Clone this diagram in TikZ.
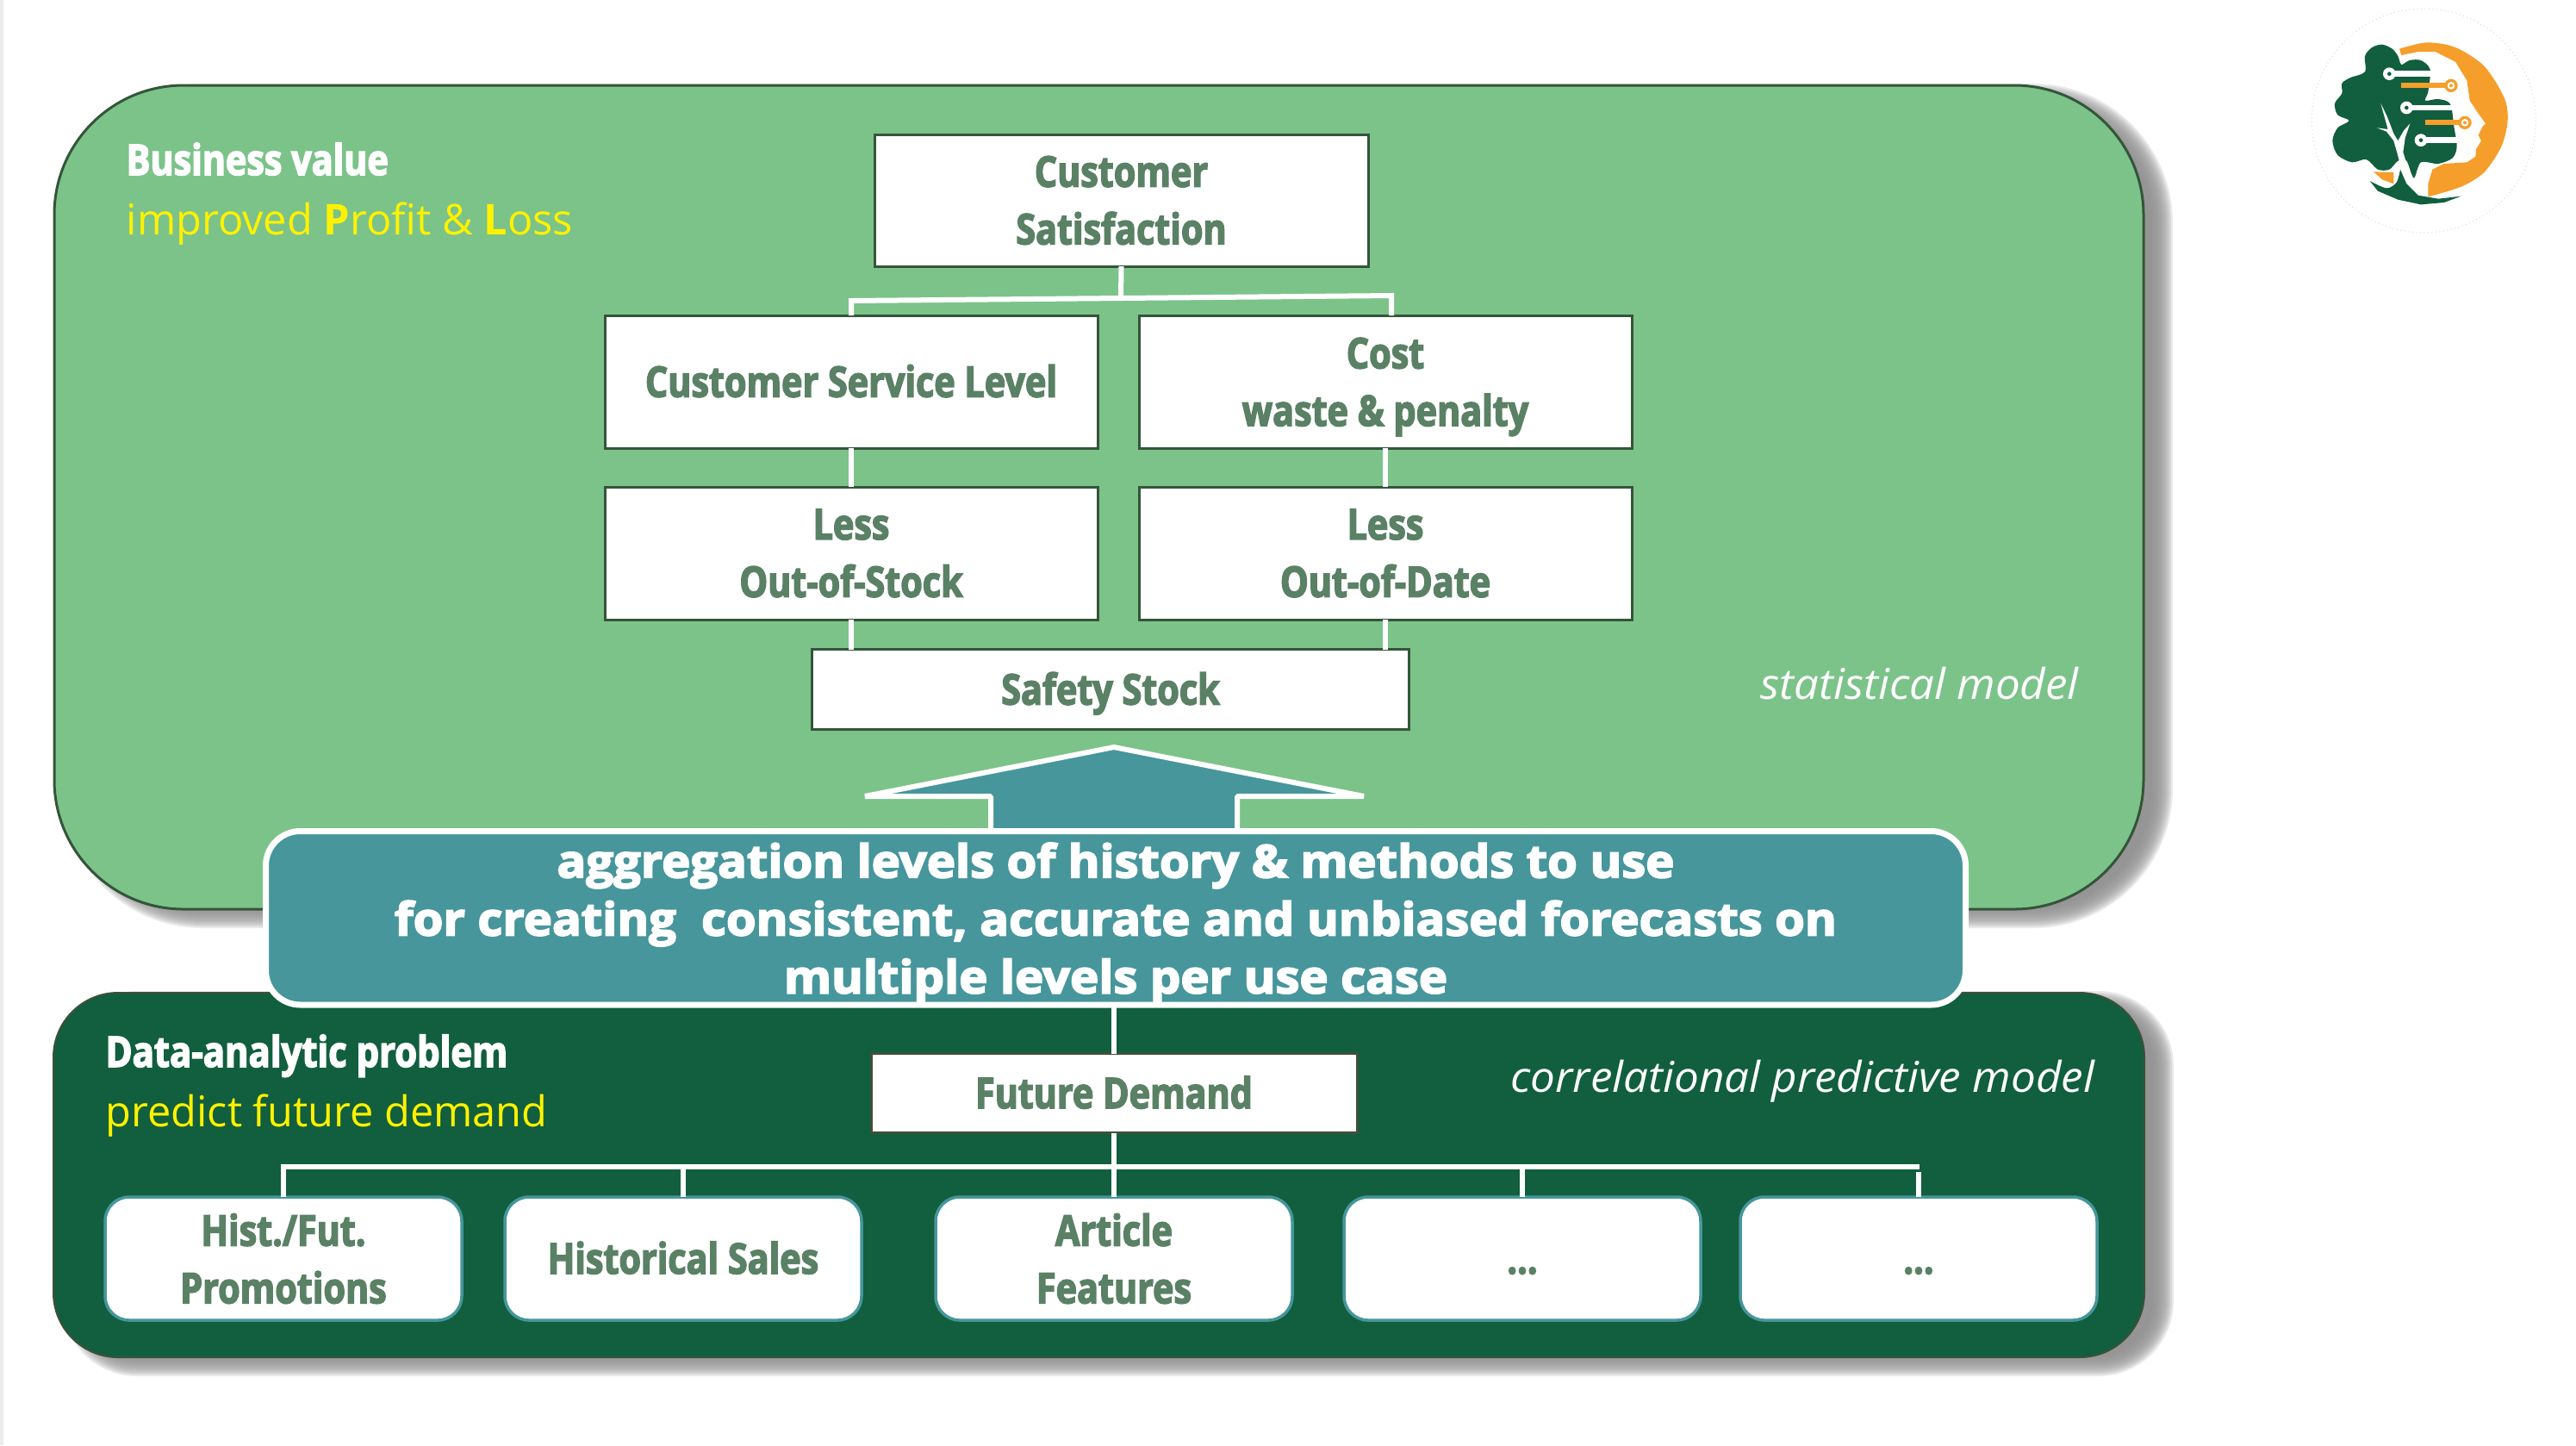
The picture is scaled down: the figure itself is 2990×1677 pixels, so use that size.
\documentclass[tikz,border=0pt]{standalone}
\usepackage{fontspec}
\usepackage{tikz}
\usetikzlibrary{positioning}
\setmainfont[FakeStretch=.99]{Open Sans}
\newfontfamily\heavyfont[FakeStretch=.84,FakeBold=3]{Open Sans}
\newfontfamily\headfont[FakeStretch=.85,FakeBold=3]{Open Sans}
\newfontfamily\widefont[FakeStretch=1.065,FakeBold=3.5]{Open Sans}
\newfontfamily\modelfont[FakeStretch=1.04]{Open Sans}
\definecolor{panel-light}{HTML}{7CC38A}
\definecolor{panel-dark}{HTML}{115F3E}
\definecolor{panel-teal}{HTML}{46969C}
\definecolor{label-green}{HTML}{5A8165}
\definecolor{edge-green}{HTML}{34553A}
\definecolor{edge-brown}{HTML}{3F4F3A}
\definecolor{shadow-gray}{HTML}{8E8E8E}
\definecolor{logo-orange}{HTML}{F59E2B}

\tikzset{
	valuebox/.style={draw=edge-green, fill=white, line width=.3mm, minimum width=57.2mm, minimum height=15.4mm,
		inner sep=0pt, outer sep=0pt, align=center, text=label-green, font=\heavyfont\bfseries\fontsize{14}{19}\selectfont},
	featurebox/.style={valuebox, draw=panel-teal, line width=.35mm, rounded corners=2.8mm, minimum width=41.4mm, minimum height=14.3mm},
	oneline/.style={text height=10pt, text depth=0pt},
	link/.style={white, line width=.6mm},
	title/.style={anchor=base west, inner sep=0pt, text=white, font=\heavyfont\bfseries\fontsize{14}{19}\selectfont},
	subtitle/.style={anchor=base west, inner sep=0pt, text=yellow, font=\fontsize{14}{19}\selectfont},
	modelname/.style={anchor=base west, inner sep=0pt, text=white, font=\modelfont\itshape\fontsize{14}{19}\selectfont}
}
\newcommand{\softshadow}[5]{%
	\foreach \i in {12,10,...,-12} {
		\pgfmathsetmacro{\rr}{(#5+\i)*0.1}
		\fill[shadow-gray, opacity=.19, rounded corners=\rr mm] (#1+22-\i,#2+10-\i) rectangle (#3+22+\i,#4+10+\i);
	}
}

\begin{document}
\begin{tikzpicture}[x=.1mm, y=-.1mm]
	\useasboundingbox (0,0) rectangle (2990,1677);
	\fill[black!8] (0,0) rectangle (4,1677);

	\softshadow{63}{99}{2488}{1055}{150}
	\softshadow{62}{1152}{2489}{1575}{75}
	\draw[edge-green, fill=panel-light, line width=.3mm, rounded corners=15mm] (63,99) rectangle (2488,1055);
	\draw[edge-brown, fill=panel-dark, line width=.2mm, rounded corners=7.5mm] (62,1152) rectangle (2489,1575);

	\node[title] (business) at (146,203) {Business value};
	\node[subtitle] (profit) at (146,272) {improved \textbf{P}rofit \& \textbf{L}oss};
	\node[modelname] (statistical) at (2043,811) {statistical model};
	\node[title, font=\headfont\bfseries\fontsize{14}{19}\selectfont] (dataproblem) at (122,1238) {Data-analytic problem};
	\node[subtitle] (predict) at (122,1307) {predict future demand};
	\node[modelname] (correlational) at (1753,1267) {correlational predictive model};

	\node[valuebox, minimum width=57.3mm, minimum height=15.3mm] (satisfaction) at (1301.5,232.5) {Customer\\Satisfaction};
	\node[valuebox, oneline] (service) at (988,443) {Customer Service Level};
	\node[valuebox, right=4.8mm of service] (cost) {Cost\\\smash{waste \& penalty}};
	\node[valuebox, below=4.5mm of service] (lessstock) {Less\\Out-of-Stock};
	\node[valuebox, below=4.5mm of cost] (lessdate) {Less\\Out-of-Date};
	\node[valuebox, oneline, minimum width=69.3mm, minimum height=9.3mm] (safety) at (1289,800) {Safety Stock};

	\coordinate (joincenter) at (1301,345);
	\coordinate (joinleft) at (988,349);
	\coordinate (joinright) at (1615,343);
	\draw[link] (satisfaction.south) -- (joincenter);
	\draw[link, line join=miter] (joinleft |- service.north) -- (joinleft) -- (joinright) -- (joinright |- cost.north);
	\draw[link] (service.south) -- (lessstock.north);
	\draw[link] (cost.south) -- (lessdate.north);
	\draw[link] (lessstock.south) -- (lessstock.south |- safety.north);
	\draw[link] (lessdate.south) -- (lessdate.south |- safety.north);

	\fill[panel-teal] (1150,965) -- (1150,924) -- (1006,924) -- (1293,867) -- (1581,924) -- (1436,924) -- (1436,965) -- cycle;
	\draw[link, line join=bevel] (1150,965) -- (1150,924) -- (1004,924) -- (1293,867) -- (1583,924) -- (1436,924) -- (1436,965);
	\node[draw=white, fill=panel-teal, line width=.7mm, rounded corners=4mm, minimum width=197.3mm, minimum height=20.15mm,
		inner sep=0pt, outer sep=0pt, align=center, text=white, font=\widefont\bfseries\fontsize{15}{19.1}\selectfont]
		(aggregation) at (1295,1065.25) {aggregation levels of history \& methods to use\\for creating\ \ consistent, accurate and unbiased forecasts on\\\smash{multiple levels per use case}};

	\node[valuebox, oneline, draw=edge-brown, minimum width=56.4mm, minimum height=9.2mm] (demand) at (1293,1268.5) {Future Demand};
	\node[featurebox] (promo) at (329,1460.5) {Hist./Fut.\\Promotions};
	\node[featurebox, oneline, right=5mm of promo] (sales) {Historical Sales};
	\node[featurebox, right=8.6mm of sales] (article) {Article\\Features};
	\node[featurebox, oneline, right=6mm of article] (dotsa) {...};
	\node[featurebox, oneline, right=4.6mm of dotsa] (dotsb) {...};

	\coordinate (treeright) at (2228,1354);
	\coordinate (treegap) at (2228,1360);
	\draw[link] (demand.north) -- (demand.north |- aggregation.south);
	\draw[link] (article.north) -- (article.north |- demand.south);
	\draw[link] (promo.north) -- (promo.north |- treeright) -- (treeright);
	\foreach \feat in {sales, dotsa} {
		\draw[link] (\feat.north) -- (\feat.north |- treeright);
	}
	\draw[link] (dotsb.north) -- (dotsb.north |- treegap);

	\begin{scope}[shift={(2650,0)}, scale=1/3]
		\draw[black!15, densely dotted, line width=.1mm] (490,420) circle (390);
		\fill[logo-orange] plot[smooth] coordinates {(405,170) (500,148) (600,165) (700,230) (770,340) (782,420) (760,510) (700,600) (620,650) (505,685)}
			-- (505,640) -- (520,590) -- (560,570) -- (640,565) -- (670,545) -- (672,520) -- (690,490) -- (680,470) -- (695,440) -- (705,430) -- (680,395) -- (650,350) -- (640,280) -- (600,215) -- (530,180) -- (470,180) -- (412,192) -- cycle;
		\fill[panel-dark] plot[smooth cycle] coordinates {(285,250) (285,195) (310,165) (345,155) (380,170) (400,195) (412,225) (440,210) (480,210) (512,242) (505,320) (495,350) (540,345) (582,362) (595,440) (605,510) (590,550) (540,570) (480,565) (455,620) (430,560) (400,560) (370,590) (330,590) (290,555) (240,565) (190,540) (172,490) (190,445) (230,420) (190,400) (180,360) (205,325) (205,290) (235,270)};
		\fill[logo-orange] (315,598) -- (385,600) -- (385,640) -- (345,625) -- cycle;
		\fill[white] (340,360) -- (362,405) -- (385,465) -- (400,490) -- (420,455) -- (442,430) -- (425,480) -- (418,530) -- (435,585) -- (470,650) -- (505,695) -- (440,660) -- (412,590) -- (398,535) -- (385,490) -- (360,458) -- (327,445) -- (365,450) -- cycle;
		\fill[panel-dark] plot[smooth] coordinates {(302,630) (360,655) (395,635) (408,590)} -- (430,640) -- (470,680) -- (540,692) -- (620,683) -- (560,705) -- (480,712) -- (400,695) -- (330,665) -- cycle;
		\foreach \bx/\by/\ex in {370/257/515, 430/375/590, 480/488/605} {
			\fill[white] (\bx,\by-10) rectangle (\ex,\by+10);
			\fill[white] (\bx,\by) circle (22);
			\fill[panel-dark] (\bx,\by) circle (7);
		}
		\foreach \bx/\ex/\by in {410/585/298, 495/633/427} {
			\fill[logo-orange] (\bx,\by-9) rectangle (\ex,\by+9);
			\fill[logo-orange] (\ex,\by) circle (23);
			\fill[white] (\ex,\by) circle (13);
			\fill[logo-orange] (\ex,\by) circle (6);
		}
	\end{scope}
\end{tikzpicture}
\end{document}
